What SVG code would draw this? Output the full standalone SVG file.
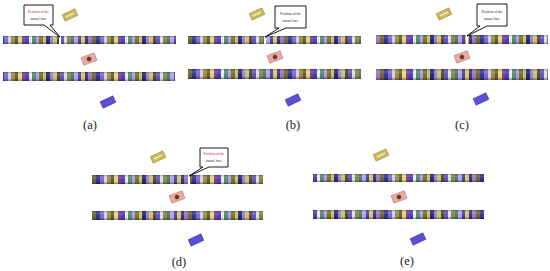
<svg xmlns="http://www.w3.org/2000/svg" width="550" height="271" viewBox="0 0 550 271">
<defs>
<pattern id="stripes" patternUnits="userSpaceOnUse" x="0" y="0" width="96" height="20">
<rect x="0" y="0" width="4" height="20" fill="#3a3490"/>
<rect x="4" y="0" width="4" height="20" fill="#7c6ed0"/>
<rect x="8" y="0" width="3" height="20" fill="#d8d2f4"/>
<rect x="11" y="0" width="4" height="20" fill="#9a9640"/>
<rect x="15" y="0" width="3" height="20" fill="#6a5836"/>
<rect x="18" y="0" width="4" height="20" fill="#e0e07a"/>
<rect x="22" y="0" width="3" height="20" fill="#8a3ca8"/>
<rect x="25" y="0" width="4" height="20" fill="#4848a8"/>
<rect x="29" y="0" width="3" height="20" fill="#f2f0fa"/>
<rect x="32" y="0" width="4" height="20" fill="#5a8a78"/>
<rect x="36" y="0" width="3" height="20" fill="#aaa2e4"/>
<rect x="39" y="0" width="4" height="20" fill="#7a7232"/>
<rect x="43" y="0" width="3" height="20" fill="#c8c868"/>
<rect x="46" y="0" width="4" height="20" fill="#2e2870"/>
<rect x="50" y="0" width="3" height="20" fill="#9a86dc"/>
<rect x="53" y="0" width="4" height="20" fill="#ccc87a"/>
<rect x="57" y="0" width="3" height="20" fill="#5a4830"/>
<rect x="60" y="0" width="4" height="20" fill="#6258c4"/>
<rect x="64" y="0" width="3" height="20" fill="#e4e0f4"/>
<rect x="67" y="0" width="4" height="20" fill="#8c8a3c"/>
<rect x="71" y="0" width="3" height="20" fill="#4a7a80"/>
<rect x="74" y="0" width="4" height="20" fill="#b4aaea"/>
<rect x="78" y="0" width="3" height="20" fill="#583ea0"/>
<rect x="81" y="0" width="4" height="20" fill="#d4d070"/>
<rect x="85" y="0" width="3" height="20" fill="#3c3474"/>
<rect x="88" y="0" width="4" height="20" fill="#a07ac8"/>
<rect x="92" y="0" width="4" height="20" fill="#70683a"/>
</pattern>
<linearGradient id="shade" x1="0" y1="0" x2="0" y2="1">
<stop offset="0" stop-color="#000" stop-opacity="0.25"/>
<stop offset="0.3" stop-color="#fff" stop-opacity="0.12"/>
<stop offset="0.7" stop-color="#000" stop-opacity="0"/>
<stop offset="1" stop-color="#000" stop-opacity="0.4"/>
</linearGradient>
<g id="yel"><rect x="-7" y="-3.5" width="14" height="7" fill="#c9b960" stroke="#a08e3a" stroke-width="0.6"/><rect x="-4.5" y="-0.8" width="9" height="1.6" fill="#eee8b0"/></g>
<g id="pink"><rect x="-7" y="-4" width="14" height="8" fill="#e8aaa8" stroke="#b87878" stroke-width="0.6"/><circle cx="0" cy="0" r="2.3" fill="#6a3c12"/></g>
<g id="blue"><rect x="-7" y="-3.5" width="14" height="7" fill="#5a50d4" stroke="#3c32a8" stroke-width="0.6"/></g>
</defs>
<style>
.bar{fill:url(#stripes)}
.sh{fill:url(#shade)}
.call{fill:#fff;stroke:#000;stroke-width:0.9}
.t1{font-family:"Liberation Serif",serif;font-size:3.6px;text-anchor:middle;fill:#222}
.red{fill:#d02020}
.lbl{font-family:"Liberation Serif",serif;font-size:12.5px;text-anchor:middle;fill:#222}
</style>

<g id="panel-a">
<rect class="bar" x="3" y="36" width="56" height="8"/><rect class="sh" x="3" y="36" width="56" height="8"/>
<rect class="bar" x="61" y="36" width="115" height="8"/><rect class="sh" x="61" y="36" width="115" height="8"/>
<rect class="bar" x="3" y="72" width="172" height="9"/><rect class="sh" x="3" y="72" width="172" height="9"/>
<use href="#yel" transform="translate(70,15) rotate(-25)"/>
<use href="#pink" transform="translate(89,59) rotate(-20)"/>
<use href="#blue" transform="translate(108,102) rotate(-25)"/>
<path class="call" d="M24,5 H53 V25 H50 L60,37 L44,25 H24 Z"/>
<text class="t1 red" x="38.5" y="13">Position of the</text>
<text class="t1" x="38.5" y="20">tunnel face</text>
<text class="lbl" x="90" y="129">(a)</text>
</g>

<g id="panel-b">
<rect class="bar" x="188" y="36" width="76" height="8"/><rect class="sh" x="188" y="36" width="76" height="8"/>
<rect class="bar" x="266" y="36" width="95" height="8"/><rect class="sh" x="266" y="36" width="95" height="8"/>
<rect class="bar" x="188" y="69" width="173" height="10"/><rect class="sh" x="188" y="69" width="173" height="10"/>
<use href="#yel" transform="translate(257,14) rotate(-25)"/>
<use href="#pink" transform="translate(275,57) rotate(-20)"/>
<use href="#blue" transform="translate(293,100) rotate(-25)"/>
<path class="call" d="M275,6 H306 V28 H286 L265,37 L279,28 H275 Z"/>
<text class="t1" x="290.5" y="15">Position of the</text>
<text class="t1" x="290.5" y="22">tunnel face</text>
<text class="lbl" x="293" y="129">(b)</text>
</g>

<g id="panel-c">
<rect class="bar" x="376" y="35" width="90" height="9"/><rect class="sh" x="376" y="35" width="90" height="9"/>
<rect class="bar" x="468" y="35" width="80" height="9"/><rect class="sh" x="468" y="35" width="80" height="9"/>
<rect class="bar" x="376" y="69" width="172" height="11"/><rect class="sh" x="376" y="69" width="172" height="11"/>
<use href="#yel" transform="translate(444,14) rotate(-25)"/>
<use href="#pink" transform="translate(462,57) rotate(-20)"/>
<use href="#blue" transform="translate(481,99) rotate(-25)"/>
<path class="call" d="M477,4 H507 V26 H487 L467,36 L480,26 H477 Z"/>
<text class="t1" x="492" y="13">Position of the</text>
<text class="t1" x="492" y="20">tunnel face</text>
<text class="lbl" x="462" y="129">(c)</text>
</g>

<g id="panel-d">
<rect class="bar" x="92" y="175" width="96" height="9"/><rect class="sh" x="92" y="175" width="96" height="9"/>
<rect class="bar" x="190" y="175" width="73" height="9"/><rect class="sh" x="190" y="175" width="73" height="9"/>
<rect class="bar" x="92" y="211" width="171" height="9"/><rect class="sh" x="92" y="211" width="171" height="9"/>
<use href="#yel" transform="translate(158,157) rotate(-25)"/>
<use href="#pink" transform="translate(177,197) rotate(-20)"/>
<use href="#blue" transform="translate(196,240) rotate(-25)"/>
<path class="call" d="M200,148 H228 V167 H209 L189,176 L203,167 H200 Z"/>
<text class="t1 red" x="214" y="155">Position of the</text>
<text class="t1" x="214" y="162">tunnel face</text>
<text class="lbl" x="179" y="266">(d)</text>
</g>

<g id="panel-e">
<rect class="bar" x="313" y="174" width="171" height="8"/><rect class="sh" x="313" y="174" width="171" height="8"/>
<rect class="bar" x="313" y="210" width="171" height="9"/><rect class="sh" x="313" y="210" width="171" height="9"/>
<use href="#yel" transform="translate(381,155) rotate(-25)"/>
<use href="#pink" transform="translate(399,197) rotate(-20)"/>
<use href="#blue" transform="translate(418,239) rotate(-25)"/>
<text class="lbl" x="407" y="265">(e)</text>
</g>
</svg>
